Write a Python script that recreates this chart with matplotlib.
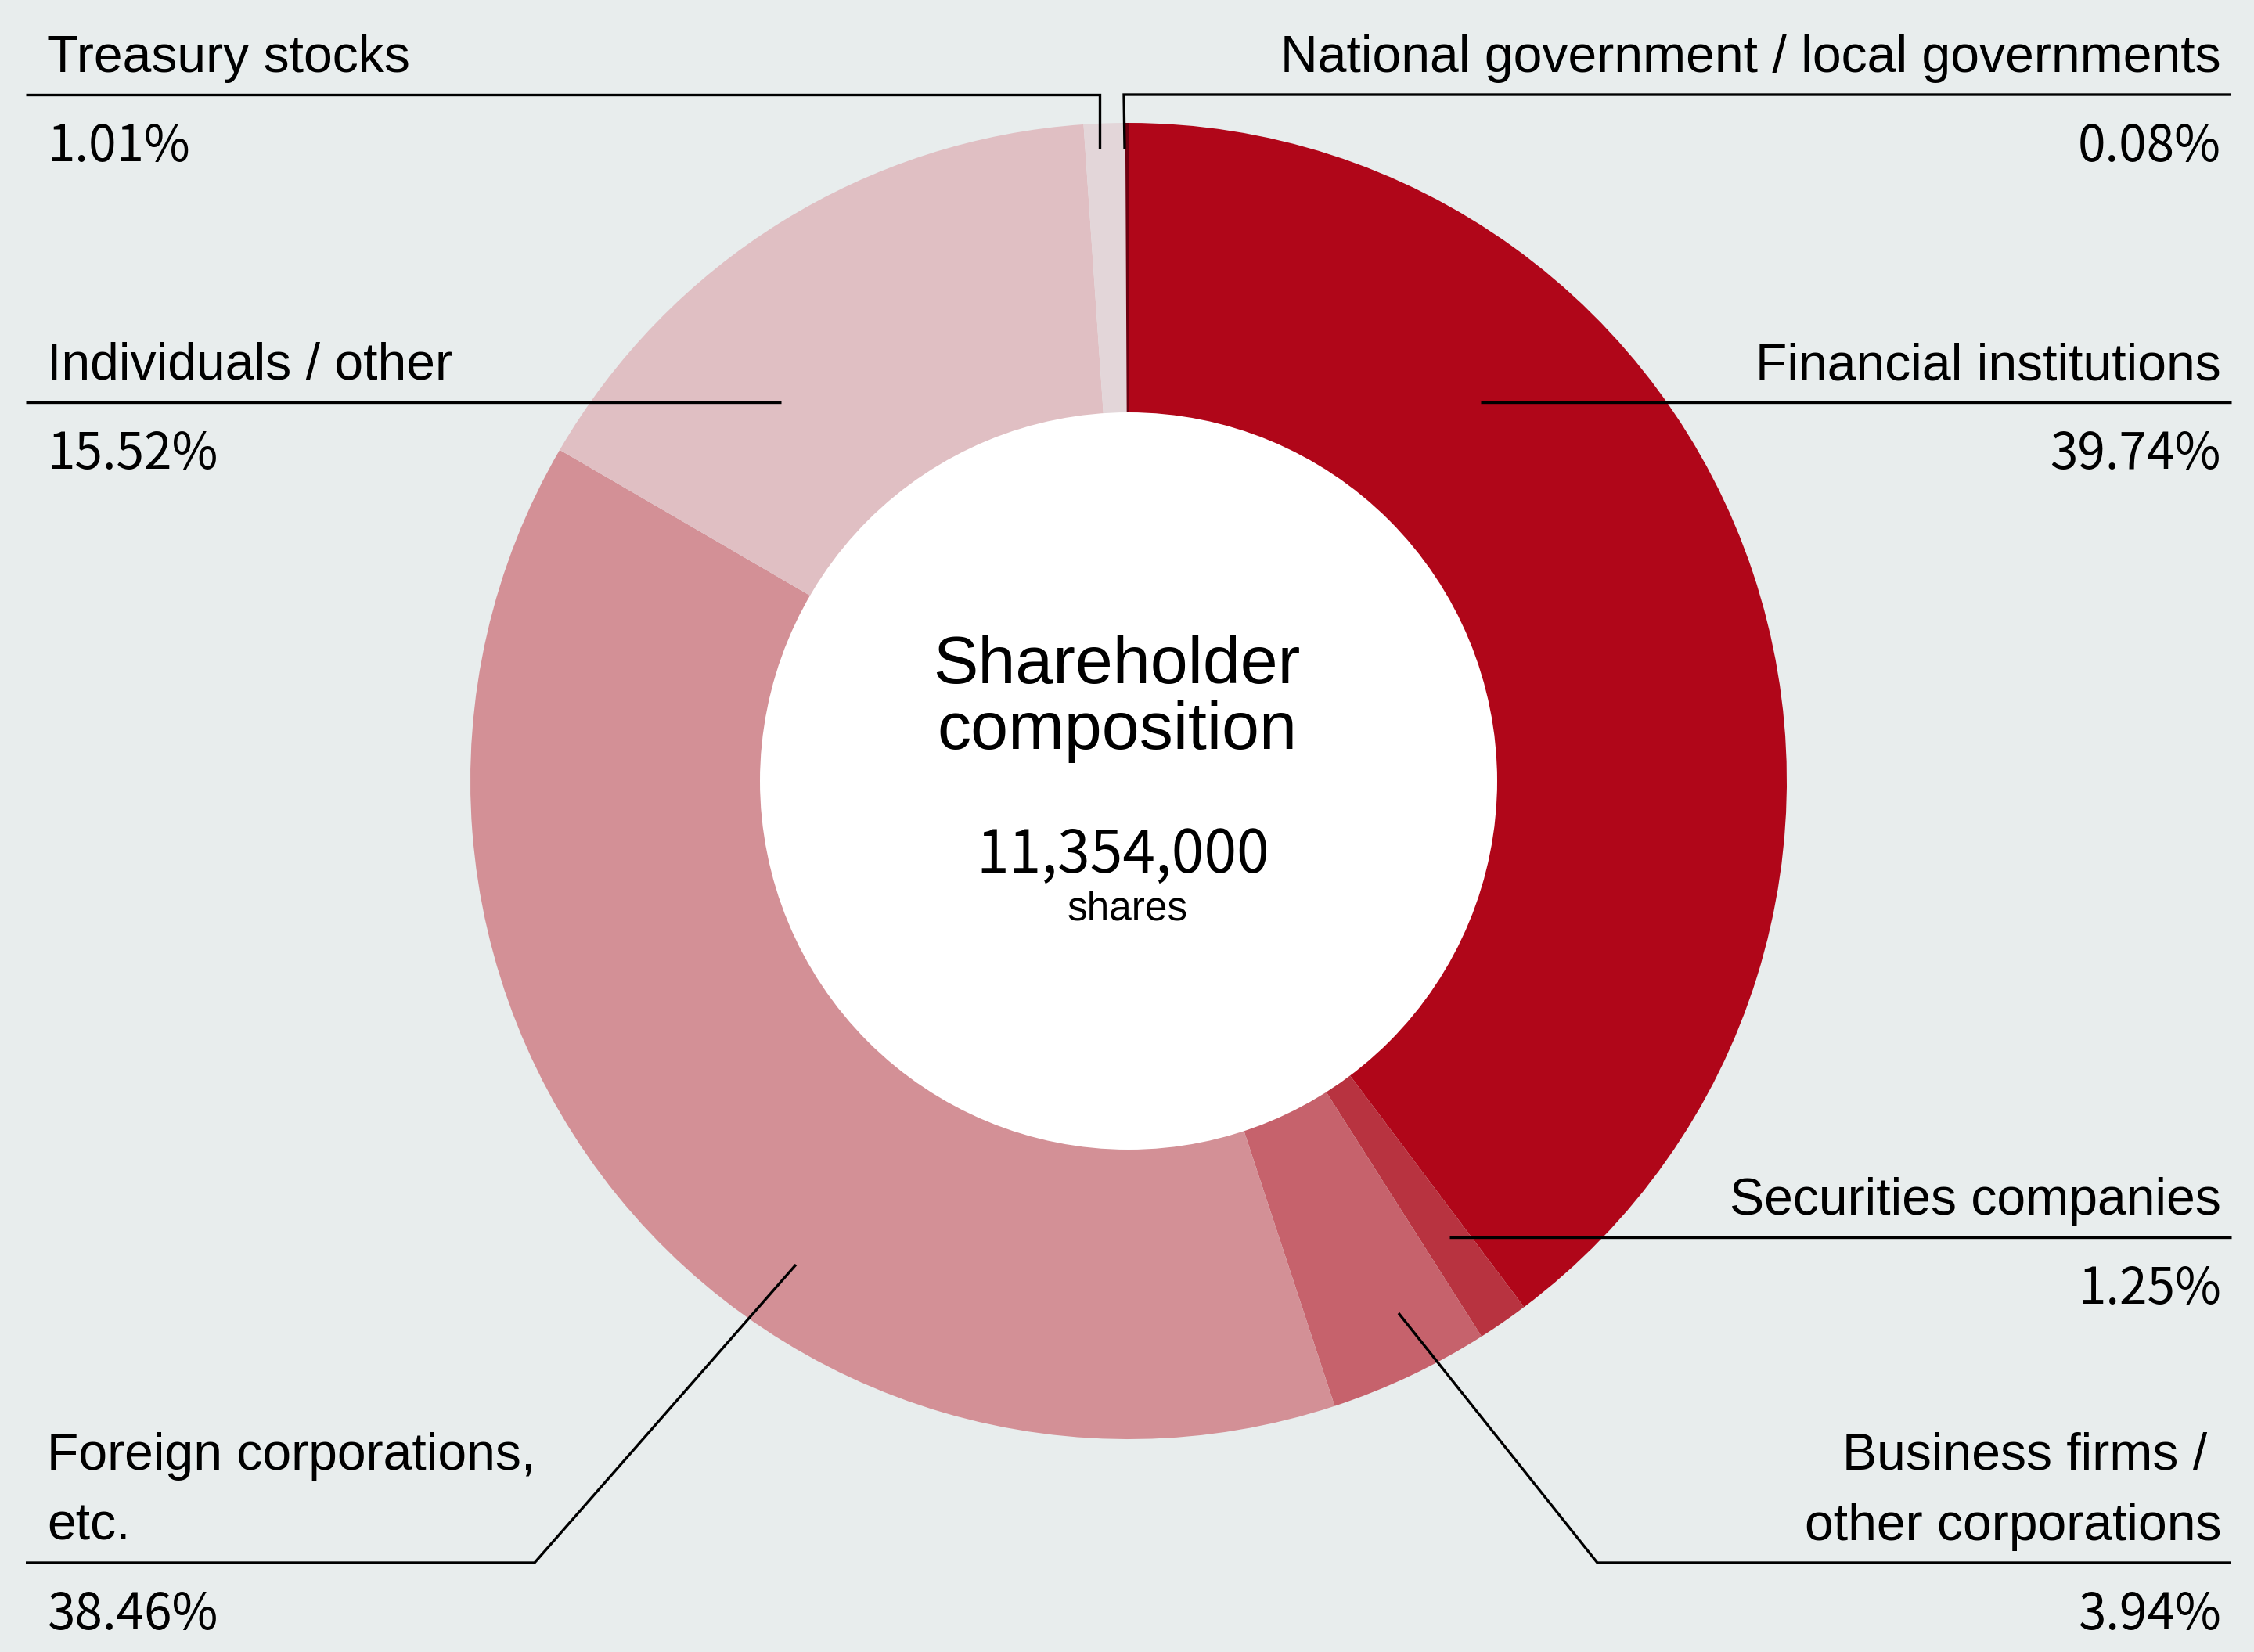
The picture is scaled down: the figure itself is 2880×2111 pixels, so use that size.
import matplotlib
matplotlib.use("Agg")
import matplotlib.pyplot as plt
from matplotlib.patches import Circle

# ---- data ----
categories = ["Financial institutions", "Securities companies",
              "Business firms / \nother corporations", "Foreign corporations,\netc.",
              "Individuals / other", "Treasury stocks",
              "National government / local governments"]
shares_pct = [39.74, 1.25, 3.94, 38.46, 15.52, 1.01, 0.08]
pct_labels = ["39.74%", "1.25%", "3.94%", "38.46%", "15.52%", "1.01%", "0.08%"]
colors = ["#b00619", "#b83340", "#c6626c", "#d39096", "#e0bfc3", "#e3d6d9", "#6e0010"]
title_lines = ["Shareholder", "composition"]
total_shares = "11,354,000"
total_unit = "shares"

# ---- layout (pixel coordinates, y measured from top) ----
W, H = 2880, 2111
BG = "#e8eded"
CX, CY, R_OUT, R_IN = 1442, 998, 841, 470

def P(x, y):
    return x, H - y

fig = plt.figure(figsize=(W / 200, H / 200), dpi=200, facecolor=BG)
ax = fig.add_axes([0, 0, 1, 1])
ax.set_facecolor(BG)

ax.pie(shares_pct, colors=colors, startangle=90, counterclock=False,
       radius=R_OUT, center=P(CX, CY),
       wedgeprops=dict(width=R_OUT - R_IN, edgecolor="none", linewidth=0))
ax.add_patch(Circle(P(CX, CY), R_IN + 1, facecolor="white", edgecolor="none", zorder=3))

ax.set_xlim(0, W)
ax.set_ylim(0, H)
ax.set_aspect("equal")
ax.axis("off")

# leader lines (annotation geometry)
leaders = {
    "Treasury stocks": [(33, 121), (1405, 121), (1405, 190)],
    "National government / local governments": [(2851, 121), (1436, 121), (1437, 190)],
    "Individuals / other": [(33, 514), (998, 514)],
    "Financial institutions": [(1892, 514), (2851, 514)],
    "Securities companies": [(1852, 1581), (2851, 1581)],
    "Business firms / \nother corporations": [(1787, 1678), (2041, 1997), (2851, 1997)],
    "Foreign corporations,\netc.": [(1017, 1616), (683, 1997), (33, 1997)],
}
for name, pts in leaders.items():
    xs = [p[0] for p in pts]
    ys = [H - p[1] for p in pts]
    ax.plot(xs, ys, color="black", lw=1.2, solid_joinstyle="miter",
            solid_capstyle="butt", zorder=5)

# label placement: (line y, side)
label_pos = {
    "Treasury stocks": (121, "left"),
    "National government / local governments": (121, "right"),
    "Individuals / other": (514, "left"),
    "Financial institutions": (514, "right"),
    "Securities companies": (1581, "right"),
    "Business firms / \nother corporations": (1997, "right"),
    "Foreign corporations,\netc.": (1997, "left"),
}
LX, RX = 60, 2838
label_font = dict(family=["Liberation Sans", "DejaVu Sans"], size=23.8, color="black")
pct_font = dict(family=["Noto Sans CJK JP", "DejaVu Sans"], size=23, color="black")

for name, pct in zip(categories, pct_labels):
    ly, side = label_pos[name]
    x = LX if side == "left" else RX
    lines = name.split("\n")
    n = len(lines)
    for i, t in enumerate(lines):
        base = ly - 29 - (n - 1 - i) * 90
        ax.text(*P(x, base), t, ha=side, va="baseline", zorder=6, **label_font)
    ax.text(*P(x, ly + 85), pct, ha=side, va="baseline", zorder=6, **pct_font)

# centre text
title_font = dict(family=["Liberation Sans", "DejaVu Sans"], size=31, color="black")
ax.text(*P(1427, 873), title_lines[0], ha="center", va="baseline", zorder=6, **title_font)
ax.text(*P(1427, 957), title_lines[1], ha="center", va="baseline", zorder=6, **title_font)
ax.text(*P(1435, 1115), total_shares, ha="center", va="baseline", zorder=6,
        family=["Noto Sans CJK JP", "DejaVu Sans"], size=27, color="black")
ax.text(*P(1441, 1176), total_unit, ha="center", va="baseline", zorder=6,
        family=["Liberation Sans", "DejaVu Sans"], size=18.5, color="black")

fig.savefig("out.png", dpi=200, facecolor=BG)
